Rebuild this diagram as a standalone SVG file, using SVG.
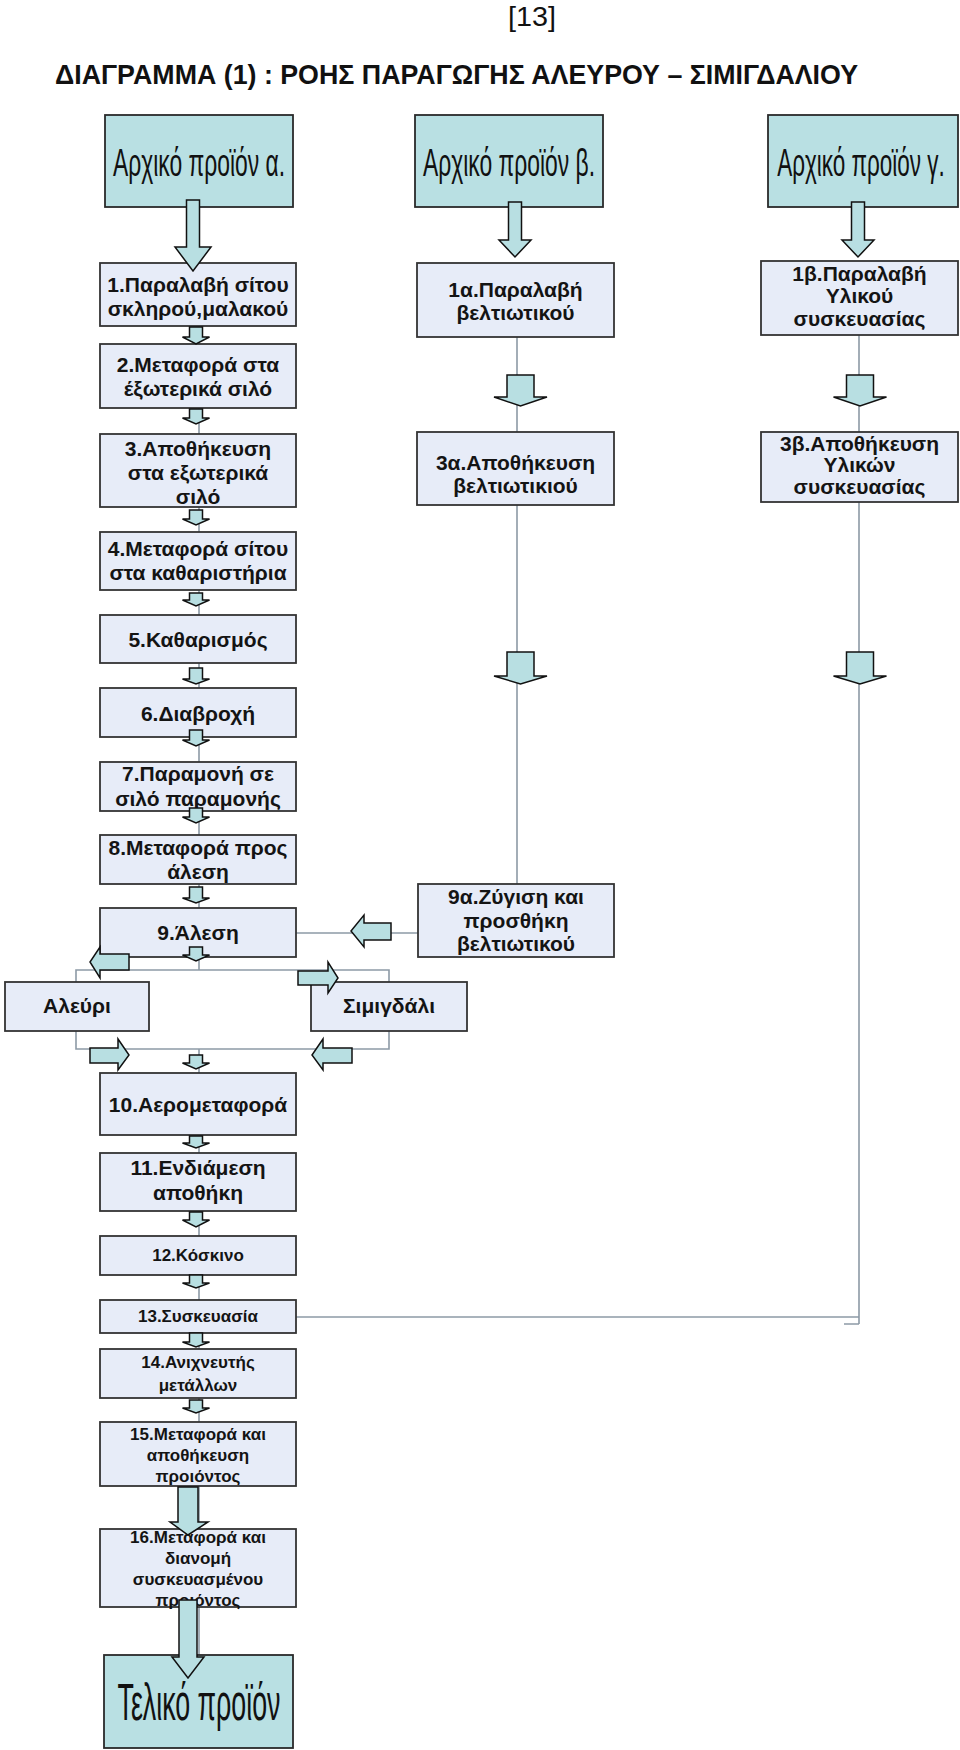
<svg xmlns="http://www.w3.org/2000/svg" width="960" height="1750" viewBox="0 0 960 1750">
<style>
.bg{fill:#ffffff}
.step{fill:#e7ecf8;stroke:#333;stroke-width:1.8}
.start{fill:#b9e0e3;stroke:#2a2a2a;stroke-width:1.8}
.t{font-family:"Liberation Sans",Arial,sans-serif;font-weight:bold;font-size:21px;fill:#141414;text-anchor:middle}
.ts{font-family:"Liberation Sans",Arial,sans-serif;font-weight:bold;font-size:17px;fill:#141414;text-anchor:middle}
.big{font-family:"Liberation Sans",Arial,sans-serif;font-size:38px;fill:#111;text-anchor:middle}
.ln{stroke:#8d9aa6;stroke-width:1.6;fill:none}
.ar{fill:#b8dfe2;stroke:#111;stroke-width:1.5;stroke-linejoin:miter}
</style>
<rect class="bg" x="0" y="0" width="960" height="1750"/>
<text x="532" y="26" font-family="'Liberation Sans Narrow','Liberation Sans',Arial,sans-serif" font-size="28" fill="#111" text-anchor="middle" textLength="48" lengthAdjust="spacingAndGlyphs">[13]</text>
<text x="55" y="84" font-family="'Liberation Sans',Arial,sans-serif" font-weight="bold" font-size="28" fill="#111" textLength="803" lengthAdjust="spacingAndGlyphs">ΔΙΑΓΡΑΜΜΑ (1) : ΡΟΗΣ ΠΑΡΑΓΩΓΗΣ ΑΛΕΥΡΟΥ – ΣΙΜΙΓΔΑΛΙΟΥ</text>

<g id="connectors">
<path class="ln" d="M199,326V344 M199,408V434 M199,507V532 M199,590V615 M199,663V688 M199,737V762 M199,811V835 M199,884V908 M199,957V970"/>
<path class="ln" d="M76,982V970H389V982"/>
<path class="ln" d="M76,1031V1049H389V1031 M199,1049V1073"/>
<path class="ln" d="M199,1135V1153 M199,1211V1236 M199,1275V1300 M199,1333V1349 M199,1398V1422 M199,1486V1529 M199,1607V1655"/>
<path class="ln" d="M296,933H418"/>
<path class="ln" d="M517,337V432 M517,505V884"/>
<path class="ln" d="M859,335V432 M859,502V1324 M296,1317H859 M844,1324H859"/>
</g>

<g id="start-a"><rect class="start" x="105" y="115" width="188" height="92"/><text class="big" transform="translate(199,176) scale(0.64,1)" x="0" y="0" textLength="269" lengthAdjust="spacingAndGlyphs">Αρχικό προϊόν α.</text></g>
<g id="start-b"><rect class="start" x="415" y="115" width="188" height="92"/><text class="big" transform="translate(509,176) scale(0.64,1)" x="0" y="0" textLength="269" lengthAdjust="spacingAndGlyphs">Αρχικό προϊόν β.</text></g>
<g id="start-c"><rect class="start" x="768" y="115" width="190" height="92"/><text class="big" transform="translate(861,176) scale(0.64,1)" x="0" y="0" textLength="262" lengthAdjust="spacingAndGlyphs">Αρχικό προϊόν γ.</text></g>

<g id="s1"><rect class="step" x="100" y="263" width="196" height="63"/><text class="t" x="198" y="292">1.Παραλαβή σίτου</text><text class="t" x="198" y="316">σκληρού,μαλακού</text></g>
<g id="s2"><rect class="step" x="100" y="344" width="196" height="64"/><text class="t" x="198" y="372">2.Μεταφορά στα</text><text class="t" x="198" y="396">έξωτερικά σιλό</text></g>
<g id="s3"><rect class="step" x="100" y="434" width="196" height="73"/><text class="t" x="198" y="456">3.Αποθήκευση</text><text class="t" x="198" y="480">στα εξωτερικά</text><text class="t" x="198" y="504">σιλό</text></g>
<g id="s4"><rect class="step" x="100" y="532" width="196" height="58"/><text class="t" x="198" y="556">4.Μεταφορά σίτου</text><text class="t" x="198" y="580">στα καθαριστήρια</text></g>
<g id="s5"><rect class="step" x="100" y="615" width="196" height="48"/><text class="t" x="198" y="647">5.Καθαρισμός</text></g>
<g id="s6"><rect class="step" x="100" y="688" width="196" height="49"/><text class="t" x="198" y="721">6.Διαβροχή</text></g>
<g id="s7"><rect class="step" x="100" y="762" width="196" height="49"/><text class="t" x="198" y="781">7.Παραμονή σε</text><text class="t" x="198" y="806">σιλό παραμονής</text></g>
<g id="s8"><rect class="step" x="100" y="835" width="196" height="49"/><text class="t" x="198" y="855">8.Μεταφορά προς</text><text class="t" x="198" y="879">άλεση</text></g>
<g id="s9"><rect class="step" x="100" y="908" width="196" height="49"/><text class="t" x="198" y="940">9.Άλεση</text></g>
<g id="aleuri"><rect class="step" x="5" y="982" width="144" height="49"/><text class="t" x="77" y="1013">Αλεύρι</text></g>
<g id="simigdali"><rect class="step" x="311" y="982" width="156" height="49"/><text class="t" x="389" y="1013">Σιμιγδάλι</text></g>
<g id="s10"><rect class="step" x="100" y="1073" width="196" height="62"/><text class="t" x="198" y="1112">10.Αερομεταφορά</text></g>
<g id="s11"><rect class="step" x="100" y="1153" width="196" height="58"/><text class="t" x="198" y="1175">11.Ενδιάμεση</text><text class="t" x="198" y="1200">αποθήκη</text></g>
<g id="s12"><rect class="step" x="100" y="1236" width="196" height="39"/><text class="ts" x="198" y="1261">12.Κόσκινο</text></g>
<g id="s13"><rect class="step" x="100" y="1300" width="196" height="33"/><text class="ts" x="198" y="1322">13.Συσκευασία</text></g>
<g id="s14"><rect class="step" x="100" y="1349" width="196" height="49"/><text class="ts" x="198" y="1368">14.Ανιχνευτής</text><text class="ts" x="198" y="1391">μετάλλων</text></g>
<g id="s15"><rect class="step" x="100" y="1422" width="196" height="64"/><text class="ts" x="198" y="1440">15.Μεταφορά και</text><text class="ts" x="198" y="1461">αποθήκευση</text><text class="ts" x="198" y="1482">προιόντος</text></g>
<g id="s16"><rect class="step" x="100" y="1529" width="196" height="78"/><text class="ts" x="198" y="1543">16.Μεταφορά και</text><text class="ts" x="198" y="1564">διανομή</text><text class="ts" x="198" y="1585">συσκευασμένου</text><text class="ts" x="198" y="1606">προιόντος</text></g>
<g id="final"><rect class="start" x="104" y="1655" width="189" height="93"/><text x="199" y="1720" font-family="'Liberation Sans Narrow','Liberation Sans',Arial,sans-serif" font-size="52" fill="#111" text-anchor="middle" textLength="163" lengthAdjust="spacingAndGlyphs">Τελικό προϊόν</text></g>

<g id="s1a"><rect class="step" x="417" y="263" width="197" height="74"/><text class="t" x="515.5" y="297">1α.Παραλαβή</text><text class="t" x="515.5" y="320">βελτιωτικού</text></g>
<g id="s3a"><rect class="step" x="417" y="432" width="197" height="73"/><text class="t" x="515.5" y="470">3α.Αποθήκευση</text><text class="t" x="515.5" y="493">βελτιωτικιού</text></g>
<g id="s9a"><rect class="step" x="418" y="884" width="196" height="73"/><text class="t" x="516" y="904">9α.Ζύγιση και</text><text class="t" x="516" y="928">προσθήκη</text><text class="t" x="516" y="951">βελτιωτικού</text></g>
<g id="s1b"><rect class="step" x="761" y="261" width="197" height="74"/><text class="t" x="859.5" y="281">1β.Παραλαβή</text><text class="t" x="859.5" y="303">Υλικού</text><text class="t" x="859.5" y="326">συσκευασίας</text></g>
<g id="s3b"><rect class="step" x="761" y="432" width="197" height="70"/><text class="t" x="859.5" y="451">3β.Αποθήκευση</text><text class="t" x="859.5" y="472">Υλικών</text><text class="t" x="859.5" y="494">συσκευασίας</text></g>

<g id="arrows">
<path class="ar" d="M186.5,200H199.5V247H211L193,271L175,247H186.5Z"/>
<path class="ar" d="M508.5,202H521.5V240H531L515,257L499,240H508.5Z"/>
<path class="ar" d="M851.5,202H864.5V240H874L858,257L842,240H851.5Z"/>
<path class="ar" d="M507,375H534V397H547L520.5,406L494,397H507Z"/>
<path class="ar" d="M846.5,375H873.5V397H886.5L860,406L833.5,397H846.5Z"/>
<path class="ar" d="M507,652H534V676H547L520.5,684L494,676H507Z"/>
<path class="ar" d="M846.5,652H873.5V676H886.5L860,684L833.5,676H846.5Z"/>
<path class="ar" d="M189.5,327H202.5V337H209.5L196,344L182.5,337H189.5Z"/>
<path class="ar" d="M189.5,409H202.5V418H209.5L196,424L182.5,418H189.5Z"/>
<path class="ar" d="M189.5,510H202.5V519H209.5L196,525L182.5,519H189.5Z"/>
<path class="ar" d="M189.5,593H202.5V600H209.5L196,606L182.5,600H189.5Z"/>
<path class="ar" d="M189.5,668H202.5V679H209.5L196,684L182.5,679H189.5Z"/>
<path class="ar" d="M189.5,730H202.5V740H209.5L196,746L182.5,740H189.5Z"/>
<path class="ar" d="M189.5,808H202.5V817H209.5L196,823L182.5,817H189.5Z"/>
<path class="ar" d="M189.5,887H202.5V898H209.5L196,903L182.5,898H189.5Z"/>
<path class="ar" d="M189.5,947H202.5V955H209.5L196,961L182.5,955H189.5Z"/>
<path class="ar" d="M189.5,1055H202.5V1063H209.5L196,1069L182.5,1063H189.5Z"/>
<path class="ar" d="M189.5,1136H202.5V1143H209.5L196,1148L182.5,1143H189.5Z"/>
<path class="ar" d="M189.5,1212H202.5V1220H209.5L196,1227L182.5,1220H189.5Z"/>
<path class="ar" d="M189.5,1275H202.5V1283H209.5L196,1288L182.5,1283H189.5Z"/>
<path class="ar" d="M189.5,1333H202.5V1342H209.5L196,1347L182.5,1342H189.5Z"/>
<path class="ar" d="M189.5,1400H202.5V1408H209.5L196,1413L182.5,1408H189.5Z"/>
<path class="ar" d="M178,1487H198V1522H208L188,1535L170,1522H178Z"/>
<path class="ar" d="M179,1600H197V1657H204L188,1678L172,1657H179Z"/>
<path class="ar" d="M129,954V970H100V978L90,962L100,947V954Z"/>
<path class="ar" d="M298,971H328V962L338,978L328,993V985H298Z"/>
<path class="ar" d="M90,1048H118V1039L129,1055L118,1070V1063H90Z"/>
<path class="ar" d="M352,1048V1063H323V1070L312,1055L323,1039V1048Z"/>
<path class="ar" d="M391,923V940H364V947L351,931L364,915V923Z"/>
</g>
</svg>
